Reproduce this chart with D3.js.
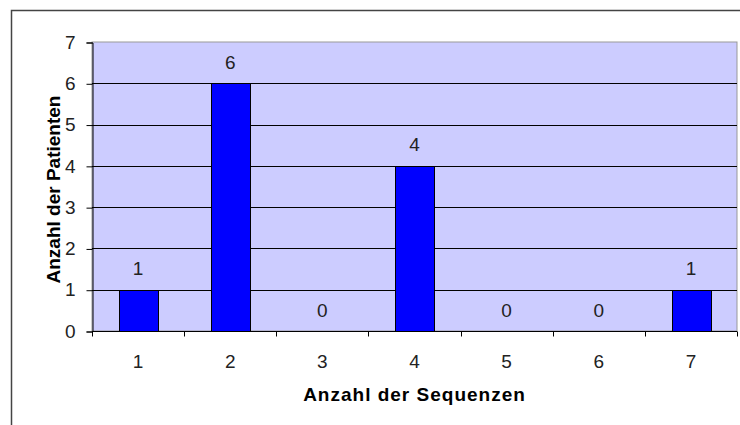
<!DOCTYPE html>
<html lang="de">
<head>
    <meta charset="UTF-8">
    <title>Anzahl der Sequenzen</title>
    <style type="text/css">
        body {
            margin: 0;
            background: #fff;
        }
        svg {
            display: block;
            font-family: "Liberation Sans", Arial, sans-serif;
        }
        .tick-label, .value-label {
            font-family: "Liberation Sans Narrow", "Liberation Sans", Arial, sans-serif;
            font-size: 19px;
            fill: #222;
        }
        .axis-title {
            font-size: 19px;
            font-weight: bold;
            letter-spacing: 1px;
            fill: #000;
        }
        .axis-title.y-title {
            letter-spacing: 0;
        }
    </style>
</head>
<body>
    <div id="chart"></div>
    <script src="https://cdnjs.cloudflare.com/ajax/libs/d3/7.8.5/d3.min.js"></script>
    <script type="text/javascript">
        var categories = ["1", "2", "3", "4", "5", "6", "7"];
        var patients = [1, 6, 0, 4, 0, 0, 1];
        var yTicks = [0, 1, 2, 3, 4, 5, 6, 7];

        var width = 740,
            height = 425;
        var plot = { left: 92, top: 42, right: 737, bottom: 331 };

        var svg = d3.select("#chart")
            .append("svg")
            .attr("width", width)
            .attr("height", height);

        // outer chart frame (runs off the right / bottom edge)
        svg.append("path")
            .attr("d", "M11.5," + (height + 2) + "V10.5H" + (width + 2))
            .attr("fill", "none")
            .attr("stroke", "#444")
            .attr("stroke-width", 1.5);

        // boundaries of the categories -> tick marks
        var xCat = d3.scaleBand()
            .domain(categories)
            .range([plot.left, plot.right]);

        // bars: same step, narrower bars centred in each category
        var x = d3.scaleBand()
            .domain(categories)
            .range([plot.left, plot.right])
            .paddingInner(0.58)
            .paddingOuter(0.29);

        var y = d3.scaleLinear()
            .domain([0, 7])
            .range([plot.bottom, plot.top]);

        // plot background
        svg.append("rect")
            .attr("x", plot.left)
            .attr("y", plot.top)
            .attr("width", plot.right - plot.left)
            .attr("height", plot.bottom - plot.top)
            .attr("fill", "#ccccff")
            .attr("stroke", "#999")
            .attr("stroke-width", 1);

        // gridlines (skip the top one, that is the plot border)
        svg.append("g")
            .selectAll("line")
            .data(yTicks.filter(d => d > 0 && d < 7))
            .enter().append("line")
            .attr("x1", plot.left)
            .attr("x2", plot.right)
            .attr("y1", d => Math.round(y(d)) + 0.5)
            .attr("y2", d => Math.round(y(d)) + 0.5)
            .attr("stroke", "#000");

        // bars
        svg.append("g")
            .selectAll("rect")
            .data(patients)
            .enter().append("rect")
            .attr("x", (d, i) => Math.round(x(categories[i])) + 0.5)
            .attr("y", d => Math.round(y(d)) + 0.5)
            .attr("width", Math.round(x.bandwidth()))
            .attr("height", d => Math.round(y(0)) - Math.round(y(d)))
            .attr("fill", "#0000ff")
            .attr("stroke", "#000")
            .attr("stroke-width", 1)
            .style("display", d => d > 0 ? null : "none");

        // value labels
        svg.append("g")
            .selectAll("text")
            .data(patients)
            .enter().append("text")
            .attr("class", "value-label")
            .attr("x", (d, i) => x(categories[i]) + x.bandwidth() / 2)
            .attr("y", d => y(d) - 14.5)
            .attr("text-anchor", "middle")
            .text(d => d);

        // y axis
        var yAxis = d3.axisLeft(y)
            .tickValues(yTicks)
            .tickSize(6)
            .tickPadding(11)
            .tickFormat(d3.format("d"));

        var gy = svg.append("g")
            .attr("transform", "translate(" + (plot.left + 0.5) + ",0.5)")
            .call(yAxis);
        gy.select(".domain").attr("stroke", "#000");
        gy.selectAll(".tick line").attr("stroke", "#000");
        gy.selectAll(".tick text")
            .attr("class", "tick-label")
            .attr("dy", "0.3em")
            .attr("font-family", null)
            .attr("font-size", null)
            .attr("fill", null);

        // x axis: ticks on category boundaries, labels in the middle
        var gx = svg.append("g")
            .attr("transform", "translate(0," + (Math.round(y(0)) + 0.5) + ")");
        gx.append("line")
            .attr("x1", plot.left)
            .attr("x2", plot.right)
            .attr("stroke", "#000");
        gx.selectAll(".xtick")
            .data(categories.concat(["end"]))
            .enter().append("line")
            .attr("class", "xtick")
            .attr("x1", (d, i) => Math.round(plot.left + i * xCat.step()) + 0.5)
            .attr("x2", (d, i) => Math.round(plot.left + i * xCat.step()) + 0.5)
            .attr("y1", 0)
            .attr("y2", 5)
            .attr("stroke", "#000");
        gx.selectAll(".tick-label")
            .data(categories)
            .enter().append("text")
            .attr("class", "tick-label")
            .attr("x", d => xCat(d) + xCat.bandwidth() / 2)
            .attr("y", 36)
            .attr("text-anchor", "middle")
            .text(d => d);

        // axis titles
        svg.append("text")
            .attr("class", "axis-title")
            .attr("x", (plot.left + plot.right) / 2)
            .attr("y", 401)
            .attr("text-anchor", "middle")
            .text("Anzahl der Sequenzen");

        svg.append("text")
            .attr("class", "axis-title y-title")
            .attr("transform", "translate(60," + ((plot.top + plot.bottom) / 2 + 3) + ") rotate(-90)")
            .attr("text-anchor", "middle")
            .text("Anzahl der Patienten");
    </script>
</body>
</html>
